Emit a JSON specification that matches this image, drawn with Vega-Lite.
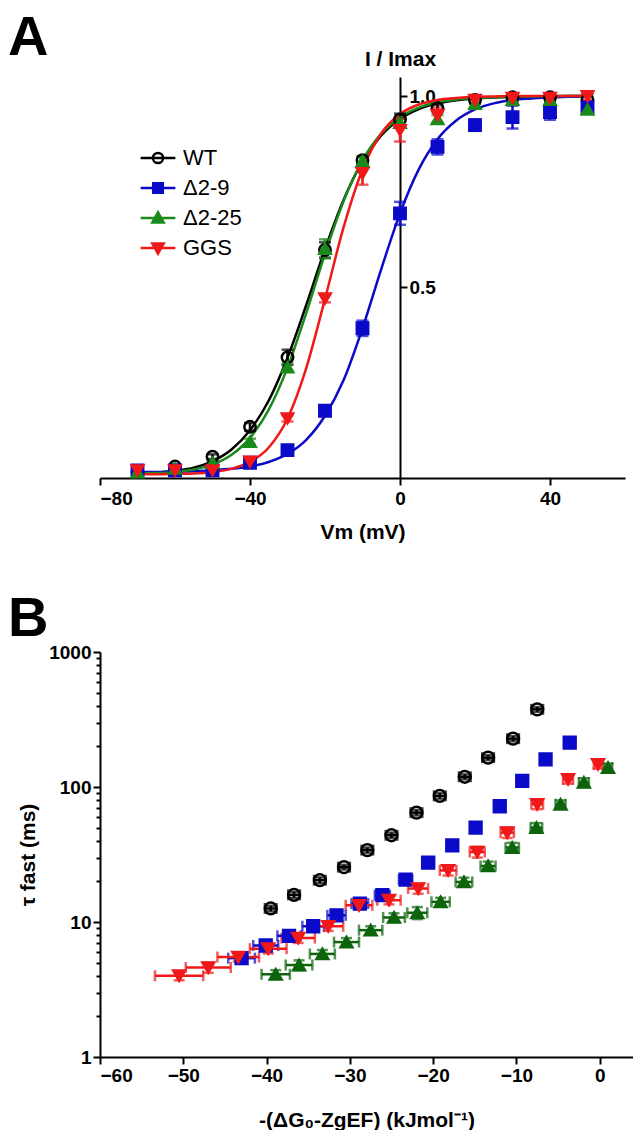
{
  "$schema": "https://vega.github.io/schema/vega-lite/v6.json",
  "padding": {"left": 8, "top": 10, "right": 0, "bottom": 0},
  "background": "white",
  "config": {
    "view": {"stroke": null},
    "font": "Liberation Sans",
    "axis": {
      "grid": false,
      "domainColor": "black",
      "domainWidth": 2,
      "tickColor": "black",
      "tickWidth": 2,
      "tickSize": 7,
      "labelColor": "black",
      "labelFont": "Liberation Sans",
      "labelFontSize": 19,
      "labelFontWeight": "bold",
      "titleColor": "black",
      "titleFont": "Liberation Sans",
      "titleFontSize": 21,
      "titleFontWeight": "bold"
    },
    "title": {"font": "Liberation Sans", "fontSize": 56, "fontWeight": "bold", "color": "black", "anchor": "start", "frame": "group"}
  },
  "datasets": {
    "curves": [
      {"s":"WT","v":-70,"y":0.012},{"s":"WT","v":-65,"y":0.014},{"s":"WT","v":-60,"y":0.019},{"s":"WT","v":-55,"y":0.027},{"s":"WT","v":-50,"y":0.044},{"s":"WT","v":-45,"y":0.074},{"s":"WT","v":-40,"y":0.125},{"s":"WT","v":-35,"y":0.203},{"s":"WT","v":-30,"y":0.315},{"s":"WT","v":-25,"y":0.453},{"s":"WT","v":-20,"y":0.599},{"s":"WT","v":-15,"y":0.729},{"s":"WT","v":-10,"y":0.829},{"s":"WT","v":-5,"y":0.897},{"s":"WT","v":0,"y":0.94},{"s":"WT","v":5,"y":0.966},{"s":"WT","v":10,"y":0.981},{"s":"WT","v":15,"y":0.989},{"s":"WT","v":20,"y":0.994},{"s":"WT","v":25,"y":0.996},{"s":"WT","v":30,"y":0.998},{"s":"WT","v":35,"y":0.999},{"s":"WT","v":40,"y":0.999},{"s":"WT","v":45,"y":1.0},{"s":"WT","v":50,"y":1.0},
      {"s":"Δ2-9","v":-70,"y":0.016},{"s":"Δ2-9","v":-65,"y":0.016},{"s":"Δ2-9","v":-60,"y":0.017},{"s":"Δ2-9","v":-55,"y":0.018},{"s":"Δ2-9","v":-50,"y":0.02},{"s":"Δ2-9","v":-45,"y":0.024},{"s":"Δ2-9","v":-40,"y":0.03},{"s":"Δ2-9","v":-35,"y":0.042},{"s":"Δ2-9","v":-30,"y":0.063},{"s":"Δ2-9","v":-25,"y":0.1},{"s":"Δ2-9","v":-20,"y":0.163},{"s":"Δ2-9","v":-15,"y":0.257},{"s":"Δ2-9","v":-10,"y":0.392},{"s":"Δ2-9","v":-5,"y":0.547},{"s":"Δ2-9","v":0,"y":0.693},{"s":"Δ2-9","v":5,"y":0.808},{"s":"Δ2-9","v":10,"y":0.887},{"s":"Δ2-9","v":15,"y":0.936},{"s":"Δ2-9","v":20,"y":0.965},{"s":"Δ2-9","v":25,"y":0.981},{"s":"Δ2-9","v":30,"y":0.99},{"s":"Δ2-9","v":35,"y":0.994},{"s":"Δ2-9","v":40,"y":0.997},{"s":"Δ2-9","v":45,"y":0.998},{"s":"Δ2-9","v":50,"y":0.999},
      {"s":"Δ2-25","v":-70,"y":0.012},{"s":"Δ2-25","v":-65,"y":0.013},{"s":"Δ2-25","v":-60,"y":0.016},{"s":"Δ2-25","v":-55,"y":0.022},{"s":"Δ2-25","v":-50,"y":0.035},{"s":"Δ2-25","v":-45,"y":0.06},{"s":"Δ2-25","v":-40,"y":0.105},{"s":"Δ2-25","v":-35,"y":0.179},{"s":"Δ2-25","v":-30,"y":0.289},{"s":"Δ2-25","v":-25,"y":0.432},{"s":"Δ2-25","v":-20,"y":0.587},{"s":"Δ2-25","v":-15,"y":0.726},{"s":"Δ2-25","v":-10,"y":0.832},{"s":"Δ2-25","v":-5,"y":0.902},{"s":"Δ2-25","v":0,"y":0.945},{"s":"Δ2-25","v":5,"y":0.97},{"s":"Δ2-25","v":10,"y":0.984},{"s":"Δ2-25","v":15,"y":0.991},{"s":"Δ2-25","v":20,"y":0.995},{"s":"Δ2-25","v":25,"y":0.997},{"s":"Δ2-25","v":30,"y":0.999},{"s":"Δ2-25","v":35,"y":0.999},{"s":"Δ2-25","v":40,"y":1.0},{"s":"Δ2-25","v":45,"y":1.0},{"s":"Δ2-25","v":50,"y":1.0},
      {"s":"GGS","v":-70,"y":0.01},{"s":"GGS","v":-65,"y":0.01},{"s":"GGS","v":-60,"y":0.011},{"s":"GGS","v":-55,"y":0.012},{"s":"GGS","v":-50,"y":0.016},{"s":"GGS","v":-45,"y":0.024},{"s":"GGS","v":-40,"y":0.042},{"s":"GGS","v":-35,"y":0.08},{"s":"GGS","v":-30,"y":0.156},{"s":"GGS","v":-25,"y":0.288},{"s":"GGS","v":-20,"y":0.469},{"s":"GGS","v":-15,"y":0.658},{"s":"GGS","v":-10,"y":0.808},{"s":"GGS","v":-5,"y":0.902},{"s":"GGS","v":0,"y":0.953},{"s":"GGS","v":5,"y":0.978},{"s":"GGS","v":10,"y":0.99},{"s":"GGS","v":15,"y":0.995},{"s":"GGS","v":20,"y":0.998},{"s":"GGS","v":25,"y":0.999},{"s":"GGS","v":30,"y":1.0},{"s":"GGS","v":35,"y":1.0},{"s":"GGS","v":40,"y":1.0},{"s":"GGS","v":45,"y":1.0},{"s":"GGS","v":50,"y":1.0}
    ],
    "ivpts": [
      {"s":"WT","v":-70,"y":0.016,"e":0.005},{"s":"WT","v":-60,"y":0.03,"e":0.005},{"s":"WT","v":-50,"y":0.056,"e":0.006},{"s":"WT","v":-40,"y":0.134,"e":0.01},{"s":"WT","v":-30,"y":0.316,"e":0.02},{"s":"WT","v":-20,"y":0.597,"e":0.02},{"s":"WT","v":-10,"y":0.832,"e":0.01},{"s":"WT","v":0,"y":0.939,"e":0.015},{"s":"WT","v":10,"y":0.968,"e":0.01},{"s":"WT","v":20,"y":0.99,"e":0.01},{"s":"WT","v":30,"y":0.997,"e":0.01},{"s":"WT","v":40,"y":0.997,"e":0.01},{"s":"WT","v":50,"y":0.99,"e":0.015},
      {"s":"Δ2-9","v":-70,"y":0.02,"e":0.005},{"s":"Δ2-9","v":-60,"y":0.02,"e":0.005},{"s":"Δ2-9","v":-50,"y":0.02,"e":0.005},{"s":"Δ2-9","v":-40,"y":0.04,"e":0.005},{"s":"Δ2-9","v":-30,"y":0.073,"e":0.008},{"s":"Δ2-9","v":-20,"y":0.176,"e":0.01},{"s":"Δ2-9","v":-10,"y":0.392,"e":0.02},{"s":"Δ2-9","v":0,"y":0.693,"e":0.03},{"s":"Δ2-9","v":10,"y":0.867,"e":0.02},{"s":"Δ2-9","v":20,"y":0.924,"e":0.015},{"s":"Δ2-9","v":30,"y":0.945,"e":0.03},{"s":"Δ2-9","v":40,"y":0.958,"e":0.02},{"s":"Δ2-9","v":50,"y":0.97,"e":0.015},
      {"s":"Δ2-25","v":-70,"y":0.015,"e":0.005},{"s":"Δ2-25","v":-60,"y":0.025,"e":0.005},{"s":"Δ2-25","v":-50,"y":0.04,"e":0.005},{"s":"Δ2-25","v":-40,"y":0.095,"e":0.008},{"s":"Δ2-25","v":-30,"y":0.29,"e":0.01},{"s":"Δ2-25","v":-20,"y":0.6,"e":0.025},{"s":"Δ2-25","v":-10,"y":0.83,"e":0.01},{"s":"Δ2-25","v":0,"y":0.93,"e":0.01},{"s":"Δ2-25","v":10,"y":0.94,"e":0.01},{"s":"Δ2-25","v":20,"y":0.98,"e":0.01},{"s":"Δ2-25","v":30,"y":0.99,"e":0.01},{"s":"Δ2-25","v":40,"y":0.99,"e":0.01},{"s":"Δ2-25","v":50,"y":0.965,"e":0.01},
      {"s":"GGS","v":-70,"y":0.02,"e":0.005},{"s":"GGS","v":-60,"y":0.02,"e":0.005},{"s":"GGS","v":-50,"y":0.02,"e":0.005},{"s":"GGS","v":-40,"y":0.043,"e":0.005},{"s":"GGS","v":-30,"y":0.156,"e":0.008},{"s":"GGS","v":-20,"y":0.47,"e":0.01},{"s":"GGS","v":-10,"y":0.798,"e":0.03},{"s":"GGS","v":0,"y":0.911,"e":0.03},{"s":"GGS","v":10,"y":0.95,"e":0.02},{"s":"GGS","v":20,"y":0.99,"e":0.01},{"s":"GGS","v":30,"y":0.995,"e":0.01},{"s":"GGS","v":40,"y":0.995,"e":0.01},{"s":"GGS","v":50,"y":1.0,"e":0.01}
    ],
    "tau": [
      {"s":"WT","g":-7.5,"t":376,"xe":0.7,"te":15},{"s":"WT","g":-10.4,"t":228,"xe":0.7,"te":10},{"s":"WT","g":-13.4,"t":165,"xe":0.7,"te":7},{"s":"WT","g":-16.2,"t":119,"xe":0.7,"te":5},{"s":"WT","g":-19.2,"t":86,"xe":0.7,"te":4},{"s":"WT","g":-22.0,"t":64.6,"xe":0.7,"te":3},{"s":"WT","g":-25.0,"t":43.9,"xe":0.7,"te":2},{"s":"WT","g":-27.9,"t":34.1,"xe":0.7,"te":1.5},{"s":"WT","g":-30.7,"t":25.5,"xe":0.7,"te":1},{"s":"WT","g":-33.6,"t":20.4,"xe":0.7,"te":1},{"s":"WT","g":-36.7,"t":15.9,"xe":0.7,"te":0.8},{"s":"WT","g":-39.5,"t":12.6,"xe":0.7,"te":0.6},
      {"s":"Δ2-9","g":-3.6,"t":213,"xe":0.6,"te":15},{"s":"Δ2-9","g":-6.5,"t":160,"xe":0.6,"te":10},{"s":"Δ2-9","g":-9.3,"t":111,"xe":0.6,"te":7},{"s":"Δ2-9","g":-12.0,"t":72,"xe":0.6,"te":5},{"s":"Δ2-9","g":-14.9,"t":50,"xe":0.6,"te":4},{"s":"Δ2-9","g":-17.7,"t":37,"xe":0.6,"te":2.5},{"s":"Δ2-9","g":-20.6,"t":27.5,"xe":0.7,"te":2},{"s":"Δ2-9","g":-23.3,"t":20.6,"xe":0.8,"te":1.5},{"s":"Δ2-9","g":-26.1,"t":15.8,"xe":0.9,"te":1},{"s":"Δ2-9","g":-28.8,"t":13.7,"xe":1.0,"te":0.8},{"s":"Δ2-9","g":-31.6,"t":11.2,"xe":1.1,"te":0.8},{"s":"Δ2-9","g":-34.4,"t":9.3,"xe":1.3,"te":0.7},{"s":"Δ2-9","g":-37.3,"t":7.9,"xe":1.4,"te":0.6},{"s":"Δ2-9","g":-40.1,"t":6.7,"xe":1.5,"te":0.5},{"s":"Δ2-9","g":-43.0,"t":5.4,"xe":1.6,"te":0.5},
      {"s":"Δ2-25","g":1.0,"t":139,"xe":0.5,"te":10},{"s":"Δ2-25","g":-1.9,"t":108,"xe":0.6,"te":8},{"s":"Δ2-25","g":-4.7,"t":74.5,"xe":0.6,"te":5},{"s":"Δ2-25","g":-7.6,"t":50,"xe":0.7,"te":4},{"s":"Δ2-25","g":-10.5,"t":35.6,"xe":0.8,"te":3},{"s":"Δ2-25","g":-13.4,"t":26,"xe":0.9,"te":2},{"s":"Δ2-25","g":-16.3,"t":19.8,"xe":1.0,"te":1.5},{"s":"Δ2-25","g":-19.1,"t":14.1,"xe":1.1,"te":1},{"s":"Δ2-25","g":-21.9,"t":11.7,"xe":1.2,"te":1.2},{"s":"Δ2-25","g":-24.7,"t":10.8,"xe":1.3,"te":0.8},{"s":"Δ2-25","g":-27.5,"t":8.7,"xe":1.4,"te":0.6},{"s":"Δ2-25","g":-30.4,"t":7.1,"xe":1.5,"te":0.5},{"s":"Δ2-25","g":-33.3,"t":5.8,"xe":1.5,"te":0.4},{"s":"Δ2-25","g":-36.1,"t":4.8,"xe":1.6,"te":0.4},{"s":"Δ2-25","g":-38.9,"t":4.1,"xe":1.7,"te":0.3},
      {"s":"GGS","g":-0.2,"t":147,"xe":0.5,"te":10},{"s":"GGS","g":-3.8,"t":114,"xe":0.6,"te":8},{"s":"GGS","g":-7.5,"t":74.5,"xe":0.7,"te":6},{"s":"GGS","g":-11.1,"t":45.9,"xe":0.8,"te":4},{"s":"GGS","g":-14.7,"t":33,"xe":0.9,"te":3},{"s":"GGS","g":-18.2,"t":24.1,"xe":1.0,"te":2},{"s":"GGS","g":-21.8,"t":17.7,"xe":1.2,"te":1.5},{"s":"GGS","g":-25.3,"t":14.5,"xe":1.4,"te":1},{"s":"GGS","g":-28.9,"t":13.3,"xe":1.6,"te":0.8},{"s":"GGS","g":-32.6,"t":9.3,"xe":1.8,"te":0.7},{"s":"GGS","g":-36.2,"t":7.6,"xe":2.0,"te":0.6},{"s":"GGS","g":-39.8,"t":6.35,"xe":2.2,"te":0.5},{"s":"GGS","g":-43.4,"t":5.5,"xe":2.5,"te":0.4},{"s":"GGS","g":-47.0,"t":4.6,"xe":2.7,"te":0.4},{"s":"GGS","g":-50.5,"t":4.0,"xe":2.9,"te":0.3}
    ]
  },
  "resolve": {
    "scale": {"color": "independent", "shape": "independent", "stroke": "independent", "fill": "independent"},
    "legend": {"color": "independent", "shape": "independent", "stroke": "independent", "fill": "independent"}
  },
  "spacing": 49,
  "vconcat": [
    {
      "title": {"text": "A", "dx": -92, "offset": -19},
      "width": 525,
      "height": 401,
      "resolve": {"scale": {"shape": "independent", "stroke": "independent", "fill": "independent"}},
      "layer": [
        {
          "data": {"name": "curves"},
          "mark": {"type": "line", "interpolate": "monotone", "strokeWidth": 2.5},
          "encoding": {
            "x": {"field": "v", "type": "quantitative", "title": "Vm (mV)", "scale": {"domain": [-80, 60], "nice": false},
                  "axis": {"values": [-80, -40, 0, 40], "titlePadding": 13, "labelPadding": 4}},
            "y": {"field": "y", "type": "quantitative", "title": "I / Imax", "scale": {"domain": [0, 1.05], "nice": false},
                  "axis": {"orient": "right", "offset": -225, "values": [0.5, 1.0], "format": ".1f", "titleAngle": 0, "titleX": 0, "titleY": -8, "titleAlign": "center", "titleBaseline": "bottom", "labelPadding": 2}},
            "color": {"field": "s", "type": "nominal", "scale": {"domain": ["WT", "Δ2-9", "Δ2-25", "GGS"], "range": ["#000000", "#0a0ac8", "#1a8a1a", "#f01818"]}, "legend": null}
          }
        },
        {
          "data": {"name": "ivpts"},
          "mark": {"type": "errorbar", "ticks": {"size": 12, "thickness": 2.5}, "thickness": 2.5},
          "encoding": {
            "x": {"field": "v", "type": "quantitative", "title": "Vm (mV)"},
            "y": {"field": "y", "type": "quantitative", "title": "I / Imax"},
            "yError": {"field": "e"},
            "color": {"field": "s", "type": "nominal", "legend": null}
          }
        },
        {
          "data": {"name": "ivpts"},
          "mark": {"type": "point", "size": 130, "strokeWidth": 2.5, "opacity": 1},
          "encoding": {
            "x": {"field": "v", "type": "quantitative", "title": "Vm (mV)"},
            "y": {"field": "y", "type": "quantitative", "title": "I / Imax"},
            "shape": {"field": "s", "type": "nominal", "scale": {"domain": ["WT", "Δ2-9", "Δ2-25", "GGS"], "range": ["circle", "square", "triangle-up", "triangle-down"]}, "legend": null},
            "stroke": {"field": "s", "type": "nominal", "scale": {"domain": ["WT", "Δ2-9", "Δ2-25", "GGS"], "range": ["#000000", "#0a0ac8", "#1a8a1a", "#f01818"]}, "legend": null},
            "fill": {"field": "s", "type": "nominal", "scale": {"domain": ["WT", "Δ2-9", "Δ2-25", "GGS"], "range": ["transparent", "#0a0ac8", "#1a8a1a", "#f01818"]}, "legend": null}
          }
        },
        {
          "data": {"name": "ivpts"},
          "transform": [{"filter": "false"}],
          "mark": {"type": "point", "size": 144, "strokeWidth": 2.5, "opacity": 1},
          "encoding": {
            "x": {"field": "v", "type": "quantitative", "title": "Vm (mV)"},
            "y": {"field": "y", "type": "quantitative", "title": "I / Imax"},
            "shape": {"field": "s", "type": "nominal",
                      "scale": {"domain": ["WT", "Δ2-9", "Δ2-25", "GGS"], "range": [
                        "M-2.9,0H2.9M0.85,0A0.85,0.85,0,1,1,-0.85,0A0.85,0.85,0,1,1,0.85,0Z",
                        "M-2.9,0H2.9M-0.8,-0.8H0.8V0.8H-0.8Z",
                        "M-2.9,0H2.9M0,-0.95L0.95,0.75H-0.95Z",
                        "M-2.9,0H2.9M0,0.95L0.95,-0.75H-0.95Z"]},
                      "legend": {"orient": "none", "legendX": 47, "legendY": 70, "title": null, "labelFontSize": 22, "labelFont": "Liberation Sans", "labelFontWeight": "normal", "labelColor": "black", "symbolSize": 144, "symbolStrokeWidth": 2.5, "labelOffset": 14, "rowPadding": 8, "symbolOpacity": 1}},
            "stroke": {"field": "s", "type": "nominal", "scale": {"domain": ["WT", "Δ2-9", "Δ2-25", "GGS"], "range": ["#000000", "#0a0ac8", "#1a8a1a", "#f01818"]}},
            "fill": {"field": "s", "type": "nominal", "scale": {"domain": ["WT", "Δ2-9", "Δ2-25", "GGS"], "range": ["transparent", "#0a0ac8", "#1a8a1a", "#f01818"]}}
          }
        }
      ]
    },
    {
      "title": {"text": "B", "dx": -92, "offset": -5},
      "width": 533,
      "height": 405,
      "layer": [
        {
          "mark": {"type": "rule", "strokeDash": [7, 4], "strokeWidth": 2, "color": "black"},
          "encoding": {"x": {"datum": -30, "type": "quantitative"}}
        },
        {
          "data": {"name": "tau"},
          "mark": {"type": "errorbar", "ticks": {"size": 11, "thickness": 2.5}, "thickness": 2.5},
          "encoding": {
            "x": {"field": "g", "type": "quantitative", "title": "-(ΔG₀-ZgEF) (kJmol⁻¹)", "scale": {"domain": [-60, 4], "nice": false},
                  "axis": {"values": [-60, -50, -40, -30, -20, -10, 0], "titlePadding": 24}},
            "y": {"field": "t", "type": "quantitative", "title": "τ fast (ms)"},
            "xError": {"field": "xe"},
            "color": {"field": "s", "type": "nominal", "scale": {"domain": ["WT", "Δ2-9", "Δ2-25", "GGS"], "range": ["#000000", "#0a0ac8", "#0c640c", "#f01818"]}, "legend": null}
          }
        },
        {
          "data": {"name": "tau"},
          "mark": {"type": "errorbar", "ticks": {"size": 11, "thickness": 2.5}, "thickness": 2.5},
          "encoding": {
            "x": {"field": "g", "type": "quantitative", "title": "-(ΔG₀-ZgEF) (kJmol⁻¹)"},
            "y": {"field": "t", "type": "quantitative", "title": "τ fast (ms)"},
            "yError": {"field": "te"},
            "color": {"field": "s", "type": "nominal", "legend": null}
          }
        },
        {
          "data": {"name": "tau"},
          "mark": {"type": "point", "size": 140, "strokeWidth": 2.5, "opacity": 1},
          "encoding": {
            "x": {"field": "g", "type": "quantitative", "title": "-(ΔG₀-ZgEF) (kJmol⁻¹)"},
            "y": {"field": "t", "type": "quantitative", "title": "τ fast (ms)", "scale": {"type": "log", "domain": [1, 1000], "nice": false},
                  "axis": {"values": [1,2,3,4,5,6,7,8,9,10,20,30,40,50,60,70,80,90,100,200,300,400,500,600,700,800,900,1000],
                           "labelExpr": "(datum.value == 1 || datum.value == 10 || datum.value == 100 || datum.value == 1000) ? format(datum.value, 'd') : ''",
                           "tickSize": {"condition": {"test": "datum.value == 1 || datum.value == 10 || datum.value == 100 || datum.value == 1000", "value": 7}, "value": 4},
                           "titlePadding": 10}},
            "shape": {"field": "s", "type": "nominal", "scale": {"domain": ["WT", "Δ2-9", "Δ2-25", "GGS"], "range": ["circle", "square", "triangle-up", "triangle-down"]}, "legend": null},
            "stroke": {"field": "s", "type": "nominal", "scale": {"domain": ["WT", "Δ2-9", "Δ2-25", "GGS"], "range": ["#000000", "#0a0ac8", "#0c640c", "#f01818"]}, "legend": null},
            "fill": {"field": "s", "type": "nominal", "scale": {"domain": ["WT", "Δ2-9", "Δ2-25", "GGS"], "range": ["transparent", "#0a0ac8", "#0c640c", "#f01818"]}, "legend": null}
          }
        }
      ]
    }
  ]
}
